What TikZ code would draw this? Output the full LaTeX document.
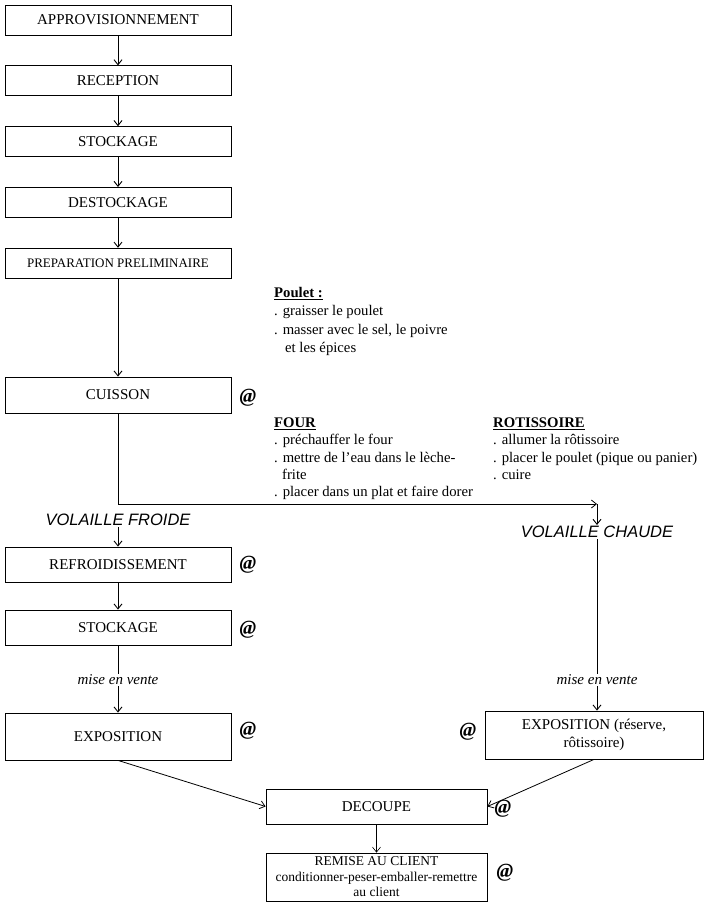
\documentclass[tikz,border=0pt]{standalone}
\usepackage{fontspec}
\setmainfont{Liberation Serif}
\setsansfont{Liberation Sans}
\usepackage{tikz}
\usetikzlibrary{arrows.meta,positioning}

\begin{document}
\begin{tikzpicture}[
    x=1pt, y=-1pt,
    node distance=30pt and 30pt,
    box/.style={draw, line width=0.8pt, align=center, minimum width=226pt, minimum height=30pt, inner sep=2pt, font=\fontsize{15}{18}\selectfont},
    smallbox/.style={box, font=\fontsize{13}{16}\selectfont},
    tag/.style={inner sep=1pt, font=\fontsize{16.5}{20}\selectfont\sffamily\itshape},
    vente/.style={inner sep=1pt, font=\fontsize{15}{18}\selectfont\itshape},
    note/.style={align=left, anchor=north west, inner sep=0pt, font=\fontsize{14.7}{17.3}\selectfont},
    haccp/.style={inner sep=1pt, font=\fontsize{20}{22}\selectfont\bfseries\itshape},
    arr/.style={-{Straight Barb[length=5pt,width=8pt]}, line width=0.9pt},
    plain/.style={line width=0.8pt}
]
\useasboundingbox (0,0) rectangle (705,902);

\node[box] (appro) at (118,20) {APPROVISIONNEMENT};
\node[box, below=of appro] (recep) {RECEPTION};
\node[box, below=of recep] (stock) {STOCKAGE};
\node[box, below=of stock] (destock) {DESTOCKAGE};
\node[smallbox, below=of destock] (prep) {PREPARATION PRELIMINAIRE};
\node[box, minimum height=36pt] (cuisson) at (118,395) {CUISSON};
\node[tag] (froide) at (118,520) {VOLAILLE FROIDE};
\node[box, minimum height=35pt] (refroid) at (118,564.5) {REFROIDISSEMENT};
\node[box, minimum height=35pt] (stock2) at (118,627.5) {STOCKAGE};
\node[vente] (venteL) at (118,680) {mise en vente};
\node[box, minimum height=47pt] (expoL) at (118,736.5) {EXPOSITION};
\node[tag] (chaude) at (597,532) {VOLAILLE CHAUDE};
\node[vente] (venteR) at (597,680) {mise en vente};
\node[box, minimum width=218pt, minimum height=48pt] (expoR) at (594,735) {EXPOSITION (réserve,\\rôtissoire)};
\node[box, minimum width=221pt, minimum height=35pt] (decoupe) at (376.5,806.5) {DECOUPE};
\node[box, minimum width=221pt, minimum height=48pt, inner sep=1pt, font=\fontsize{13.5}{15.5}\selectfont] (remise) at (376.5,877) {REMISE AU CLIENT\\conditionner-peser-emballer-remettre\\au client};

% notes
\node[note, font=\fontsize{14.7}{18.3}\selectfont] (poulet) at (274,287) {\underline{\textbf{Poulet :}}\\. graisser le poulet\\. masser avec le sel, le poivre\\\hspace*{11pt}et les épices};
\node[note] (four) at (274,417.5) {\underline{\textbf{FOUR}}\\. préchauffer le four\\. mettre de l'eau dans le lèche-\\\hspace*{8pt}frite\\. placer dans un plat et faire dorer};
\node[note] (rotis) at (493,417.5) {\underline{\textbf{ROTISSOIRE}}\\. allumer la rôtissoire\\. placer le poulet (pique ou panier)\\. cuire};

% points de controle
\node[haccp] (acuisson) at (248,398) {@};
\node[haccp] (arefroid) at (248,565) {@};
\node[haccp] (astock) at (248,630) {@};
\node[haccp] (aexpoL) at (248,731) {@};
\node[haccp] (aexpoR) at (468,732) {@};
\node[haccp] (adecoupe) at (503,809) {@};
\node[haccp] (aremise) at (505,873) {@};

\coordinate (split) at (118,504);
\coordinate (hot) at (597,504);

\draw[arr] (appro) -- (recep);
\draw[arr] (recep) -- (stock);
\draw[arr] (stock) -- (destock);
\draw[arr] (destock) -- (prep);
\draw[arr] (prep) -- (cuisson);
\draw[plain] (cuisson) -- (split);
\draw[arr, line width=0.8pt] (split) -- (hot);
\draw[arr] (hot) -- (chaude);
\draw[arr] (froide) -- (refroid);
\draw[arr] (refroid) -- (stock2);
\draw[plain] (stock2) -- (venteL);
\draw[arr] (venteL) -- (expoL);
\draw[plain] (chaude) -- (venteR);
\draw[arr] (venteR) -- (venteR |- expoR.north);
\draw[arr, line width=0.8pt] (expoL.south) -- (decoupe.west);
\draw[arr, line width=0.8pt] (expoR.south) -- (decoupe.east);
\draw[arr, line width=0.6pt] (decoupe) -- (remise);
\end{tikzpicture}
\end{document}
